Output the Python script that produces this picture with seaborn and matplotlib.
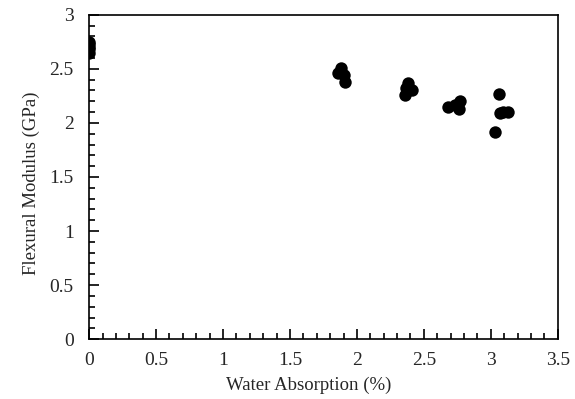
import matplotlib
matplotlib.use('Agg')
import matplotlib.pyplot as plt
import seaborn as sns
from matplotlib.ticker import MultipleLocator

water = [0.0, 0.0, 0.0, 0.0, 0.0,
         1.86, 1.88, 1.90, 1.91,
         2.36, 2.37, 2.38, 2.41,
         2.68, 2.73, 2.76, 2.77,
         3.03, 3.06, 3.07, 3.09, 3.13]
modulus = [2.65, 2.68, 2.70, 2.73, 2.75,
           2.46, 2.51, 2.44, 2.38,
           2.26, 2.32, 2.37, 2.30,
           2.15, 2.17, 2.13, 2.20,
           1.92, 2.27, 2.09, 2.10, 2.10]

sns.set_style('white')
plt.rcParams['font.family'] = ['Liberation Serif', 'DejaVu Serif']

fig = plt.figure(figsize=(5.75, 3.99), dpi=100)
ax = fig.add_axes([0.155, 0.150, 0.815, 0.813])

sns.scatterplot(x=water, y=modulus, ax=ax, color='black', s=80, edgecolor='black', linewidth=0)

ax.set_xlim(0, 3.5)
ax.set_ylim(0, 3)
ax.xaxis.set_major_locator(MultipleLocator(0.5))
ax.xaxis.set_minor_locator(MultipleLocator(0.1))
ax.yaxis.set_major_locator(MultipleLocator(0.5))
ax.yaxis.set_minor_locator(MultipleLocator(0.1))
ax.set_xticklabels([('%g' % t) for t in ax.get_xticks()])
ax.set_yticklabels([('%g' % t) for t in ax.get_yticks()])
ax.tick_params(which='both', direction='in', top=False, right=False, bottom=True, left=True,
               color='black', width=1.2, labelsize=14)
ax.tick_params(axis='x', pad=9)
ax.tick_params(axis='y', pad=11)
ax.tick_params(which='major', length=7)
ax.tick_params(which='minor', length=4)
for sp in ax.spines.values():
    sp.set_visible(True)
    sp.set_color('black')
    sp.set_linewidth(1.2)

ax.set_xlabel('Water Absorption (%)', fontsize=13.5)
ax.set_ylabel('Flexural Modulus (GPa)', fontsize=13.5)
ax.xaxis.set_label_coords(0.468, -0.115)
ax.yaxis.set_label_coords(-0.105, 0.48)

fig.savefig('out.png', dpi=100)
